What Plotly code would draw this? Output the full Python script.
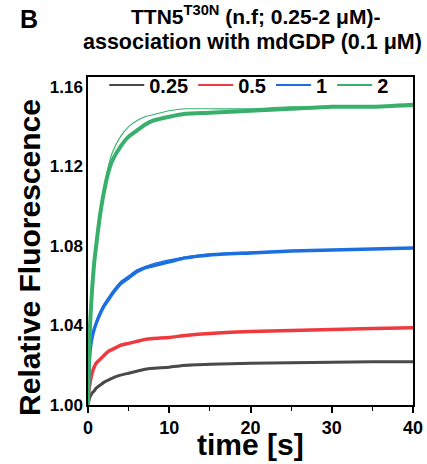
import plotly.graph_objects as go

# Time points (s) at which each trace is sampled
t_data = [0, 0.1, 0.25, 0.5, 0.75, 1, 1.5, 2, 2.5, 3, 4, 5, 6, 7, 8,
          10, 12, 15, 20, 25, 30, 35, 40]

# Measured relative fluorescence for each TTN5 concentration (uM)
conc_labels = ["0.25", "0.5", "1", "2"]
trace_025 = [1.000, 1.002, 1.004, 1.006, 1.007, 1.0085, 1.010, 1.0115, 1.0125,
             1.0135, 1.015, 1.016, 1.017, 1.018, 1.0185, 1.019, 1.020, 1.0205,
             1.021, 1.0213, 1.0215, 1.0217, 1.0218]
trace_05 = [1.003, 1.007, 1.011, 1.016, 1.019, 1.021, 1.023, 1.025, 1.027,
            1.028, 1.030, 1.031, 1.032, 1.033, 1.0335, 1.034, 1.035, 1.036,
            1.037, 1.0375, 1.038, 1.0385, 1.0388]
trace_1 = [1.000, 1.015, 1.027, 1.034, 1.038, 1.041, 1.046, 1.050, 1.053,
           1.056, 1.061, 1.064, 1.067, 1.069, 1.070, 1.072, 1.074, 1.0755,
           1.0765, 1.0775, 1.078, 1.0785, 1.079]
trace_2 = [1.000, 1.020, 1.040, 1.058, 1.071, 1.080, 1.096, 1.108, 1.117,
           1.123, 1.130, 1.135, 1.138, 1.141, 1.143, 1.145, 1.1465, 1.147,
           1.148, 1.149, 1.150, 1.150, 1.151]

# Single-exponential fit curves
fit_025 = [1.000, 1.002, 1.004, 1.006, 1.0075, 1.0088, 1.0105, 1.0118, 1.0128,
           1.0137, 1.015, 1.016, 1.017, 1.0177, 1.0183, 1.019, 1.0197, 1.0203,
           1.0209, 1.0212, 1.0214, 1.0216, 1.0217]
fit_05 = [1.003, 1.007, 1.011, 1.016, 1.019, 1.0212, 1.0235, 1.0255, 1.027,
          1.028, 1.0298, 1.031, 1.032, 1.0328, 1.0334, 1.0343, 1.035, 1.036,
          1.037, 1.0376, 1.038, 1.0384, 1.0387]
fit_1 = [1.000, 1.014, 1.025, 1.034, 1.038, 1.042, 1.047, 1.051, 1.054,
         1.057, 1.062, 1.065, 1.068, 1.0695, 1.071, 1.073, 1.0745, 1.076,
         1.077, 1.0777, 1.078, 1.0785, 1.079]
fit_2 = [1.000, 1.019, 1.040, 1.060, 1.073, 1.082, 1.098, 1.110, 1.120,
         1.127, 1.135, 1.140, 1.143, 1.145, 1.146, 1.148, 1.149, 1.149,
         1.149, 1.150, 1.150, 1.150, 1.150]

colors = ["#4a4a4a", "#ee3b3f", "#1c6fe0", "#38b06c"]
widths = [3.0, 3.5, 3.5, 4.0]
measured = [trace_025, trace_05, trace_1, trace_2]
fits = [fit_025, fit_05, fit_1, fit_2]

FONT = "Liberation Sans, Arial, sans-serif"

fig = go.Figure()

for lab, col, w, ys, fs in zip(conc_labels, colors, widths, measured, fits):
    fig.add_trace(go.Scatter(x=t_data, y=ys, mode="lines",
                             line=dict(color=col, width=w, shape="spline",
                                       smoothing=0.5),
                             showlegend=False, hoverinfo="skip"))
    fig.add_trace(go.Scatter(x=t_data, y=fs, mode="lines",
                             line=dict(color=col, width=1.1, shape="spline",
                                       smoothing=0.5),
                             showlegend=False, hoverinfo="skip"))

# Legend entries with thin line samples
for lab, col in zip(conc_labels, colors):
    fig.add_trace(go.Scatter(x=[None], y=[None], mode="lines", name=lab,
                             line=dict(color=col, width=2)))

fig.update_layout(
    width=427, height=464,
    margin=dict(l=88, r=14, t=77, b=59, autoexpand=False),
    paper_bgcolor="white", plot_bgcolor="white",
    font=dict(family=FONT, color="black"),
    showlegend=True,
    legend=dict(orientation="h", x=0.05, y=1.035, xanchor="left",
                yanchor="top", bgcolor="rgba(0,0,0,0)", borderwidth=0,
                font=dict(size=20, family=FONT, weight="bold"),
                itemwidth=35, tracegroupgap=0),
    xaxis=dict(range=[0, 40], tickvals=[0, 10, 20, 30, 40],
               ticks="outside", ticklen=6, tickwidth=1.5, tickcolor="black",
               minor=dict(tickvals=[5, 15, 25, 35], ticks="outside",
                          ticklen=4, tickwidth=1.2, tickcolor="black"),
               showline=True, linecolor="black", linewidth=1.5, mirror=True,
               showgrid=False, zeroline=False, automargin=False,
               tickfont=dict(size=18, family=FONT, weight="bold")),
    yaxis=dict(range=[1.0, 1.165], tickvals=[1.00, 1.04, 1.08, 1.12, 1.16],
               ticktext=["1.00", "1.04", "1.08", "1.12", "1.16"],
               ticks="", showline=True, linecolor="black", linewidth=1.5,
               mirror=True, showgrid=False, zeroline=False, automargin=False,
               tickfont=dict(size=17, family=FONT, weight="bold")),
)

# Panel letter, two-line title and axis titles
fig.add_annotation(text="<b>B</b>", xref="paper", yref="paper",
                   x=-0.215, y=1.178, xanchor="left", yanchor="middle",
                   showarrow=False, font=dict(size=25, family=FONT))
fig.add_annotation(text="<b>TTN5<sup>T30N</sup> (n.f; 0.25-2 \u03bcM)-</b>",
                   xref="paper", yref="paper", x=0.515, y=1.19,
                   xanchor="center", yanchor="middle", showarrow=False,
                   font=dict(size=21, family=FONT))
fig.add_annotation(text="<b>association with mdGDP (0.1 \u03bcM)</b>",
                   xref="paper", yref="paper", x=0.505, y=1.108,
                   xanchor="center", yanchor="middle", showarrow=False,
                   font=dict(size=21.5, family=FONT))
fig.add_annotation(text="<b>time [s]</b>", xref="paper", yref="paper",
                   x=0.5, y=-0.12, xanchor="center", yanchor="middle",
                   showarrow=False, font=dict(size=30, family=FONT))
fig.add_annotation(text="<b>Relative Fluorescence</b>", xref="paper",
                   yref="paper", x=-0.18, y=0.45, xanchor="center",
                   yanchor="middle", textangle=-90, showarrow=False,
                   font=dict(size=30, family=FONT))

fig.write_html("out.html")
